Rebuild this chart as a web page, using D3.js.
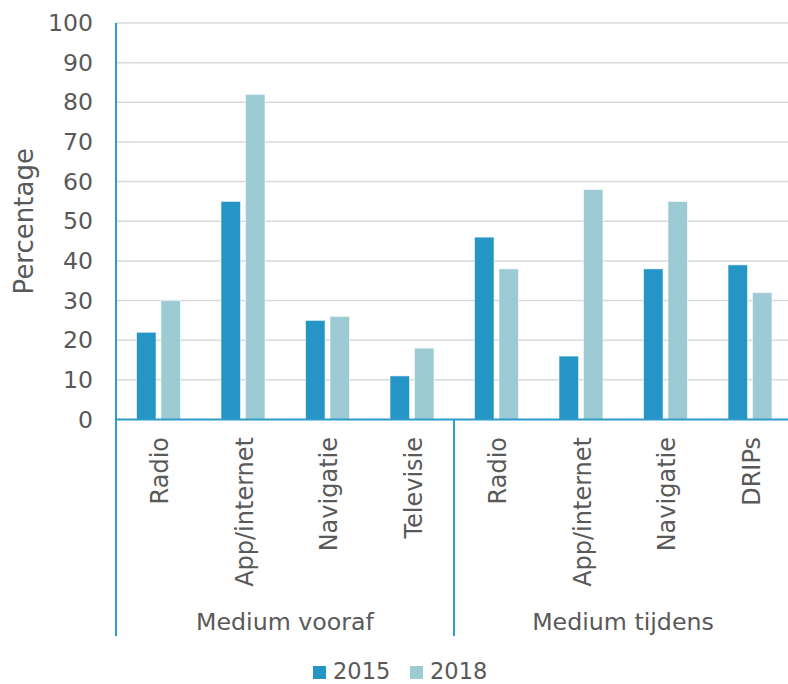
<!DOCTYPE html>
<html>
<head>
<meta charset="utf-8">
<script src="https://cdn.jsdelivr.net/npm/d3@7/dist/d3.min.js"></script>
<style>
  html, body { margin: 0; padding: 0; background: #fff; }
  svg { display: block; }
  text { font-family: "DejaVu Sans", Verdana, sans-serif; fill: #595959; }
</style>
</head>
<body>
<svg id="chart" width="788" height="684"></svg>
<script>
// Media use before and during the trip, share of respondents (%)
const groups = ["Medium vooraf", "Medium tijdens"];
const categories = ["Radio", "App/internet", "Navigatie", "Televisie", "Radio", "App/internet", "Navigatie", "DRIPs"];
const categoryGroup = [0, 0, 0, 0, 1, 1, 1, 1];
const seriesNames = ["2015", "2018"];
const values2015 = [22, 55, 25, 11, 46, 16, 38, 39];
const values2018 = [30, 82, 26, 18, 38, 58, 55, 32];
const yTicks = [0, 10, 20, 30, 40, 50, 60, 70, 80, 90, 100];

const colors = { "2015": "#2595c5", "2018": "#9ccbd3" };
const axisColor = "#2f9bcb";

const svg = d3.select("#chart");
const plotLeft = 116, plotRight = 792, plotTop = 23, plotBottom = 419.5, catBottom = 636;

const y = d3.scaleLinear().domain([0, 100]).range([plotBottom, plotTop]);
const x0 = d3.scaleBand().domain(d3.range(categories.length)).range([plotLeft, plotRight]).padding(0);
const x1 = d3.scaleBand().domain(seriesNames).range([20.5, 64.5]).paddingInner(0.2);

// gridlines
svg.append("g").selectAll("line").data(yTicks.filter(d => d > 0)).join("line")
  .attr("x1", plotLeft).attr("x2", plotRight)
  .attr("y1", d => y(d)).attr("y2", d => y(d))
  .attr("stroke", "#d9d9d9").attr("stroke-width", 1.5);

// y tick labels
svg.append("g").selectAll("text").data(yTicks).join("text")
  .attr("x", 93).attr("y", d => y(d))
  .attr("text-anchor", "end").attr("dominant-baseline", "central")
  .style("font-size", "23.6px")
  .text(d => d);

// y title
svg.append("text")
  .attr("transform", `translate(33,${(plotTop + plotBottom) / 2}) rotate(-90)`)
  .attr("text-anchor", "middle")
  .style("font-size", "26px")
  .text("Percentage");

// bars
const rows = categories.map((c, i) => ({ i, c, vals: [values2015[i], values2018[i]] }));
const cat = svg.append("g").selectAll("g").data(rows).join("g")
  .attr("transform", d => `translate(${x0(d.i)},0)`);
cat.selectAll("rect").data(d => d.vals.map((v, k) => ({ s: seriesNames[k], v }))).join("rect")
  .attr("x", d => x1(d.s)).attr("width", x1.bandwidth())
  .attr("y", d => y(d.v)).attr("height", d => y(0) - y(d.v))
  .attr("fill", d => colors[d.s])
  .attr("stroke", "#ffffff").attr("stroke-opacity", 0.6).attr("stroke-width", 1);

// axis lines
svg.append("line").attr("x1", plotLeft).attr("x2", plotLeft).attr("y1", plotTop).attr("y2", catBottom)
  .attr("stroke", axisColor).attr("stroke-width", 2);
svg.append("line").attr("x1", plotLeft).attr("x2", plotRight).attr("y1", plotBottom).attr("y2", plotBottom)
  .attr("stroke", axisColor).attr("stroke-width", 2);
// group separator
svg.append("line").attr("x1", x0(4)).attr("x2", x0(4)).attr("y1", plotBottom).attr("y2", catBottom)
  .attr("stroke", axisColor).attr("stroke-width", 2);

// category labels
svg.append("g").selectAll("text").data(rows).join("text")
  .attr("transform", d => `translate(${x0(d.i) + x0.bandwidth() / 2 + 2},437) rotate(-90)`)
  .attr("text-anchor", "end").attr("dominant-baseline", "central")
  .style("font-size", "24px")
  .text(d => d.c);

// group labels
groups.forEach((g, gi) => {
  const idx = d3.range(categories.length).filter(i => categoryGroup[i] === gi);
  const x = (x0(idx[0]) + x0(idx[idx.length - 1]) + x0.bandwidth()) / 2;
  svg.append("text").attr("x", x).attr("y", 622)
    .attr("text-anchor", "middle").attr("dominant-baseline", "central")
    .style("font-size", "23.7px").text(g);
});

// legend
const legend = svg.append("g");
const legendX = [313, 410];
seriesNames.forEach((s, k) => {
  legend.append("rect").attr("x", legendX[k]).attr("y", 666).attr("width", 13).attr("height", 13)
    .attr("fill", colors[s]);
  legend.append("text").attr("x", legendX[k] + 20).attr("y", 678.5)
    .style("font-size", "22.5px").text(s);
});
</script>
</body>
</html>
